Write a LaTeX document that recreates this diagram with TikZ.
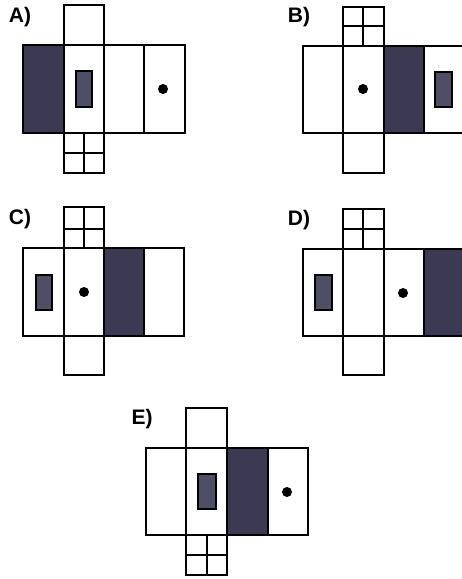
\documentclass[tikz,border=0pt]{standalone}
\usepackage{fontspec}
\setmainfont{Liberation Sans}
\definecolor{darkface}{HTML}{3B3A52}
\definecolor{smallface}{HTML}{4E4E66}
\begin{document}
\begin{tikzpicture}[x=1pt,y=-1pt,
  edge/.style={draw=black,line width=2pt,line join=miter},
  grid/.style={draw=black,line width=1.8pt},
  darkbox/.style={draw=black,line width=2.6pt,fill=darkface},
  smallbox/.style={draw=black,line width=2.6pt,fill=smallface},
  dotmark/.style={fill=black},
  lbl/.style={font=\fontsize{21}{23}\selectfont\bfseries,inner sep=0pt}]
\useasboundingbox[fill=white] (0,0) rectangle (462,579);

% ---------- A ----------
\node[lbl] (la) at (20,17) {A)};
\draw[edge] (64,5) rectangle (104,45);
\draw[darkbox] (23,45) rectangle (64,133);
\draw[edge] (64,45) rectangle (104,133);
\draw[edge] (104,45) rectangle (144,133);
\draw[edge] (144,45) rectangle (185,133);
\draw[smallbox] (76,71) rectangle (92,107);
\fill[dotmark] (163,89) circle (5);
\draw[edge] (64,133) rectangle (104,173);
\draw[grid] (84,133) -- (84,173) (64,153) -- (104,153);

% ---------- B ----------
\node[lbl] (lb) at (299,17) {B)};
\draw[edge] (343,7) rectangle (384,46);
\draw[grid] (363,7) -- (363,46) (343,26) -- (384,26);
\draw[edge] (303,46) rectangle (343,133);
\draw[edge] (343,46) rectangle (384,133);
\draw[darkbox] (384,46) rectangle (424,133);
\draw[edge] (424,46) -- (463,46) (424,133) -- (463,133);
\fill[dotmark] (363,89) circle (5);
\draw[smallbox] (435,72) rectangle (452,107);
\draw[edge] (343,133) rectangle (384,173);

% ---------- C ----------
\node[lbl] (lc) at (20,219) {C)};
\draw[edge] (64,207) rectangle (104,248);
\draw[grid] (84,207) -- (84,248) (64,229) -- (104,229);
\draw[edge] (23,248) rectangle (64,336);
\draw[edge] (64,248) rectangle (104,336);
\draw[darkbox] (104,248) rectangle (144,336);
\draw[edge] (144,248) rectangle (184,336);
\draw[smallbox] (36,275) rectangle (52,310);
\fill[dotmark] (84,292) circle (5);
\draw[edge] (64,336) rectangle (104,375);

% ---------- D ----------
\node[lbl] (ld) at (299,220) {D)};
\draw[edge] (343,209) rectangle (384,249);
\draw[grid] (363,209) -- (363,249) (343,229) -- (384,229);
\draw[edge] (303,249) rectangle (343,336);
\draw[edge] (343,249) rectangle (384,336);
\draw[edge] (384,249) rectangle (424,336);
\fill[darkface] (424,249) rectangle (463,336);
\draw[edge,line width=2.6pt] (463,249) -- (424,249) -- (424,336) -- (463,336);
\draw[smallbox] (315,275) rectangle (332,310);
\fill[dotmark] (403,293) circle (5);
\draw[edge] (343,336) rectangle (384,375);

% ---------- E ----------
\node[lbl] (le) at (142,419) {E)};
\draw[edge] (186,408) rectangle (227,448);
\draw[edge] (146,448) rectangle (186,535);
\draw[edge] (186,448) rectangle (227,535);
\draw[darkbox] (227,448) rectangle (268,535);
\draw[edge] (268,448) rectangle (308,535);
\draw[smallbox] (198,474) rectangle (216,509);
\fill[dotmark] (287,492) circle (5);
\draw[edge] (186,535) rectangle (227,575);
\draw[grid] (207,535) -- (207,575) (186,555) -- (227,555);
\end{tikzpicture}
\end{document}
